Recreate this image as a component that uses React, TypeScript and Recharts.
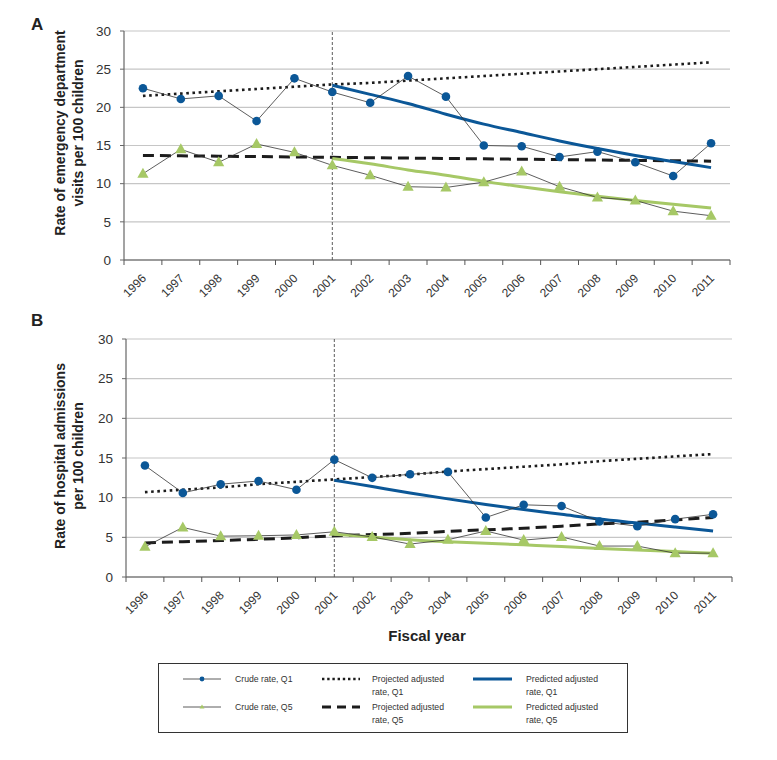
import React from 'react';
import { LineChart, Line, XAxis, YAxis, CartesianGrid, ReferenceLine } from 'recharts';

const YEARS = ['1996', '1997', '1998', '1999', '2000', '2001', '2002', '2003', '2004', '2005', '2006', '2007', '2008', '2009', '2010', '2011'];
const Y_TICKS = [0, 5, 10, 15, 20, 25, 30];

// Panel A: emergency department visits per 100 children
const ED_CRUDE_Q1 = [22.5, 21.1, 21.5, 18.2, 23.8, 22.0, 20.6, 24.1, 21.4, 15.0, 14.9, 13.5, 14.2, 12.8, 11.0, 15.3];
const ED_CRUDE_Q5 = [11.3, 14.5, 12.8, 15.2, 14.1, 12.4, 11.1, 9.6, 9.5, 10.2, 11.6, 9.6, 8.2, 7.8, 6.4, 5.8];
const ED_PROJ_Q1 = [21.5, 21.8, 22.1, 22.4, 22.7, 23.0, 23.2, 23.5, 23.8, 24.1, 24.4, 24.7, 25.0, 25.3, 25.6, 25.9];
const ED_PROJ_Q5 = [13.7, 13.65, 13.6, 13.55, 13.5, 13.45, 13.4, 13.35, 13.3, 13.25, 13.2, 13.15, 13.1, 13.05, 13.0, 12.95];
const ED_PRED_Q1 = [null, null, null, null, null, 22.9, 21.7, 20.5, 19.1, 17.8, 16.7, 15.6, 14.6, 13.7, 12.9, 12.1];
const ED_PRED_Q5 = [null, null, null, null, null, 13.3, 12.6, 11.8, 11.1, 10.3, 9.6, 8.95, 8.35, 7.8, 7.3, 6.8];

// Panel B: hospital admissions per 100 children
const ADM_CRUDE_Q1 = [14.05, 10.6, 11.7, 12.1, 11.0, 14.8, 12.5, 12.95, 13.25, 7.5, 9.1, 8.95, 7.0, 6.4, 7.3, 7.9];
const ADM_CRUDE_Q5 = [3.8, 6.25, 5.15, 5.2, 5.3, 5.7, 5.05, 4.15, 4.7, 5.8, 4.65, 5.05, 3.9, 3.9, 3.0, 3.0];
const ADM_PROJ_Q1 = [10.7, 11.0, 11.3, 11.7, 12.0, 12.3, 12.6, 12.9, 13.3, 13.6, 13.9, 14.2, 14.6, 14.9, 15.2, 15.5];
const ADM_PROJ_Q5 = [4.3, 4.45, 4.6, 4.75, 4.95, 5.2, 5.35, 5.5, 5.75, 5.95, 6.15, 6.4, 6.7, 6.9, 7.2, 7.5];
const ADM_PRED_Q1 = [null, null, null, null, null, 12.2, 11.4, 10.6, 9.85, 9.15, 8.5, 7.9, 7.3, 6.8, 6.3, 5.8];
const ADM_PRED_Q5 = [null, null, null, null, null, 5.4, 5.05, 4.7, 4.45, 4.25, 4.05, 3.85, 3.6, 3.4, 3.2, 3.0];

const BLUE = '#0b5797';
const GREEN = '#a6c866';
const FONT = '"Liberation Sans", Arial, sans-serif';
const PLOT_W = 606;
const BAND = PLOT_W / YEARS.length;

const buildRows = (cq1, cq5, pq1, pq5, dq1, dq5) =>
  YEARS.map((year, i) => ({
    year,
    crudeQ1: cq1[i],
    crudeQ5: cq5[i],
    projQ1: pq1[i],
    projQ5: pq5[i],
    predQ1: dq1[i],
    predQ5: dq5[i],
  }));

const ED_ROWS = buildRows(ED_CRUDE_Q1, ED_CRUDE_Q5, ED_PROJ_Q1, ED_PROJ_Q5, ED_PRED_Q1, ED_PRED_Q5);
const ADM_ROWS = buildRows(ADM_CRUDE_Q1, ADM_CRUDE_Q5, ADM_PROJ_Q1, ADM_PROJ_Q5, ADM_PRED_Q1, ADM_PRED_Q5);

const TriangleDot = (props: any) => {
  const { cx, cy, index } = props;
  if (cx == null || cy == null) return <g key={`t-${index}`} />;
  return (
    <polygon
      key={`t-${index}`}
      points={`${cx},${cy - 6} ${cx + 5.6},${cy + 4} ${cx - 5.6},${cy + 4}`}
      fill={GREEN}
    />
  );
};

const YearTick = (props: any) => {
  const { x, y, payload, index } = props;
  return (
    <g>
      <line x1={x - BAND / 2} x2={x - BAND / 2} y1={y} y2={y + 5} stroke="#555" />
      {index === YEARS.length - 1 && (
        <line x1={x + BAND / 2} x2={x + BAND / 2} y1={y} y2={y + 5} stroke="#555" />
      )}
      <text
        transform={`translate(${x + 4},${y + 19}) rotate(-45)`}
        textAnchor="end"
        fontSize={12}
        fill="#333"
        fontFamily={FONT}
      >
        {payload.value}
      </text>
    </g>
  );
};

function Panel({ rows, leftW, rightM, height, xAxisH }) {
  return (
    <LineChart
      width={777}
      height={height}
      data={rows}
      margin={{ top: 31, right: rightM, left: 0, bottom: 0 }}
    >
      <CartesianGrid vertical={false} stroke="#c6c6c6" strokeWidth={1.2} />
      <XAxis
        dataKey="year"
        scale="band"
        interval={0}
        tickSize={0}
        tickMargin={0}
        height={xAxisH}
        axisLine={{ stroke: '#555', strokeWidth: 1.2 }}
        tick={<YearTick />}
      />
      <YAxis
        width={leftW}
        domain={[0, 30]}
        ticks={Y_TICKS}
        tickSize={4}
        tickMargin={9}
        axisLine={{ stroke: '#666', strokeWidth: 1.2 }}
        tickLine={{ stroke: '#666' }}
        tick={{ fontSize: 13.5, fill: '#333', fontFamily: FONT }}
      />
      <YAxis
        yAxisId="frame"
        orientation="right"
        width={0}
        domain={[0, 30]}
        tick={false}
        tickLine={false}
        axisLine={{ stroke: '#8a8a8a', strokeWidth: 1.2 }}
      />
      <ReferenceLine x="2001" stroke="#333" strokeDasharray="3 2" strokeWidth={0.8} />
      <Line dataKey="projQ5" stroke="#1c1c1c" strokeWidth={3} strokeDasharray="11 6" dot={false} isAnimationActive={false} />
      <Line dataKey="projQ1" stroke="#1c1c1c" strokeWidth={2.6} strokeDasharray="2.6 3.6" dot={false} isAnimationActive={false} />
      <Line type="monotone" dataKey="predQ5" stroke={GREEN} strokeWidth={3} dot={false} isAnimationActive={false} />
      <Line type="monotone" dataKey="predQ1" stroke={BLUE} strokeWidth={3} dot={false} isAnimationActive={false} />
      <Line dataKey="crudeQ5" stroke="#333" strokeWidth={0.8} dot={<TriangleDot />} isAnimationActive={false} />
      <Line
        dataKey="crudeQ1"
        stroke="#333"
        strokeWidth={0.8}
        dot={{ r: 4.3, fill: BLUE, stroke: BLUE, strokeWidth: 0 }}
        isAnimationActive={false}
      />
    </LineChart>
  );
}

function Legend() {
  const t = { fontSize: 8.7, fill: '#333', fontFamily: FONT };
  return (
    <div
      style={{
        position: 'absolute',
        left: 158,
        top: 663,
        width: 470,
        height: 70,
        border: '1px solid #333',
        boxSizing: 'border-box',
      }}
    >
      <svg width={468} height={68} style={{ display: 'block' }}>
        <line x1={24} x2={62} y1={15} y2={15} stroke="#333" strokeWidth={0.8} />
        <circle cx={43} cy={15} r={2.4} fill={BLUE} />
        <text x={76} y={18} {...t}>Crude rate, Q1</text>
        <line x1={24} x2={62} y1={43} y2={43} stroke="#333" strokeWidth={0.8} />
        <polygon points="43,40.5 45.5,44.5 40.5,44.5" fill={GREEN} />
        <text x={76} y={46} {...t}>Crude rate, Q5</text>

        <line x1={163} x2={201} y1={15} y2={15} stroke="#1c1c1c" strokeWidth={2.4} strokeDasharray="2.4 2.8" />
        <text x={213} y={18} {...t}>Projected adjusted</text>
        <text x={213} y={30.5} {...t}>rate, Q1</text>
        <line x1={163} x2={201} y1={43} y2={43} stroke="#1c1c1c" strokeWidth={2.8} strokeDasharray="9 6" />
        <text x={213} y={46} {...t}>Projected adjusted</text>
        <text x={213} y={58.5} {...t}>rate, Q5</text>

        <line x1={314} x2={353} y1={15} y2={15} stroke={BLUE} strokeWidth={3} />
        <text x={367} y={18} {...t}>Predicted adjusted</text>
        <text x={367} y={30.5} {...t}>rate, Q1</text>
        <line x1={314} x2={353} y1={43} y2={43} stroke={GREEN} strokeWidth={3} />
        <text x={367} y={46} {...t}>Predicted adjusted</text>
        <text x={367} y={58.5} {...t}>rate, Q5</text>
      </svg>
    </div>
  );
}

export default function App() {
  const title = { fontFamily: FONT, fontWeight: 700, fill: '#222' };
  return (
    <div style={{ position: 'absolute', left: 0, top: 0, width: 777, height: 760, background: '#fff', fontFamily: FONT }}>
      <div style={{ position: 'absolute', left: 0, top: 0 }}>
        <Panel rows={ED_ROWS} leftW={124} rightM={47} height={310} xAxisH={50} />
      </div>
      <div style={{ position: 'absolute', left: 0, top: 308 }}>
        <Panel rows={ADM_ROWS} leftW={126} rightM={45} height={320} xAxisH={51} />
      </div>
      <svg width={777} height={760} style={{ position: 'absolute', left: 0, top: 0, pointerEvents: 'none' }}>
        <text x={31} y={30} fontSize={17} {...title}>A</text>
        <text x={31} y={326} fontSize={17} {...title}>B</text>
        <text transform="translate(65,133) rotate(-90)" textAnchor="middle" fontSize={14} {...title}>
          Rate of emergency department
        </text>
        <text transform="translate(82.5,133) rotate(-90)" textAnchor="middle" fontSize={14} {...title}>
          visits per 100 children
        </text>
        <text transform="translate(65,456) rotate(-90)" textAnchor="middle" fontSize={14} {...title}>
          Rate of hospital admissions
        </text>
        <text transform="translate(82.5,456) rotate(-90)" textAnchor="middle" fontSize={14} {...title}>
          per 100 children
        </text>
        <text x={427} y={641} textAnchor="middle" fontSize={15} {...title}>Fiscal year</text>
      </svg>
      <Legend />
    </div>
  );
}
